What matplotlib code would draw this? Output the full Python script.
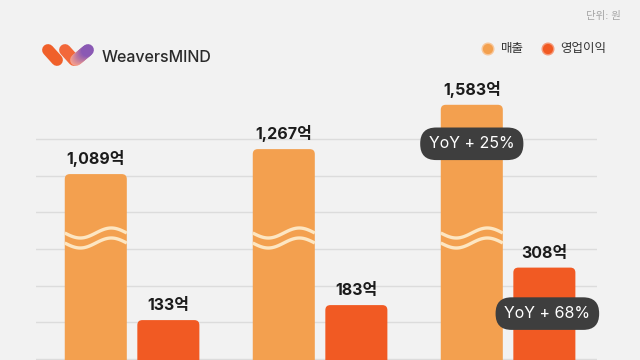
"""
WeaversMIND 매출 / 영업이익 막대 차트 재현
"""
import numpy as np
import matplotlib; matplotlib.use("Agg")
import matplotlib.pyplot as plt
from matplotlib.patches import FancyBboxPatch
from matplotlib.transforms import IdentityTransform

plt.rcParams["font.family"] = ["Inter", "Noto Sans CJK KR", "DejaVu Sans"]
plt.rcParams["axes.unicode_minus"] = False

# --- 데이터 ---
groups = [0, 1, 2]                      # 연도 라벨은 원본에서 잘려 보이지 않음
revenue = [1089, 1267, 1583]            # 매출(억 원)
profit = [133, 183, 308]                # 영업이익(억 원)
rev_labels = ["1,089억", "1,267억", "1,583억"]
pro_labels = ["133억", "183억", "308억"]
rev_yoy = "YoY + 25%"
pro_yoy = "YoY + 68%"
legend_names = ["매출", "영업이익"]

BG = "#f2f2f2"
C_REV, C_PRO = "#f3a04f", "#f15a23"
C_WAVE = "#fde6c2"

# --- 생략(물결) 구간이 있는 y축: 값 -> 화면 높이(px) ---
VAL_ANCH = [0, 330, 900, 2000]
DISP_ANCH = [0, 99, 159.4, 313.7]
fwd = lambda v: np.interp(v, VAL_ANCH, DISP_ANCH)
inv = lambda d: np.interp(d, DISP_ANCH, VAL_ANCH)
WAVE_Y = 122          # 물결 표시 높이(px)
GRID_STEP = 36.7

fig = plt.figure(figsize=(6.4, 3.6), dpi=100, facecolor=BG)
ax = fig.add_axes([36/640, 0, 561/640, 258/360], facecolor=BG)
ax.set_yscale("function", functions=(fwd, inv))
ax.set_xlim(-0.511, 2.473)
ax.set_ylim(0, inv(258))
ax.set_yticks(inv(1 + np.arange(7) * GRID_STEP))
ax.set_xticks([])
ax.tick_params(length=0, labelleft=False)
ax.grid(axis="y", color="#dcdcdc", lw=1)
ax.set_axisbelow(True)
for s in ax.spines.values(): s.set_visible(False)

W, OFF = 0.33, 0.193
x = np.array(groups)
b_rev = ax.bar(x - OFF, revenue, W, color=C_REV)
b_pro = ax.bar(x + OFF, profit, W, color=C_PRO)

# 둥근 모서리 막대로 교체 (화면 좌표)
def round_bars(bars, color):
    for r in bars:
        (x0, y0), (x1, y1) = ax.transData.transform([(r.get_x(), 0), (r.get_x() + r.get_width(), r.get_height())])
        p = FancyBboxPatch((x0, y0 - 10), x1 - x0, y1 - y0 + 10,
                           boxstyle="round,pad=0,rounding_size=5",
                           transform=IdentityTransform(), fc=color, ec="none", zorder=2)
        ax.add_artist(p)
        r.set_visible(False)

round_bars(b_rev, C_REV)
round_bars(b_pro, C_PRO)

# 물결(생략) 표시
t = np.linspace(0, 1, 80)
for xi in x - OFF:
    xs = xi - W/2 + t * W
    for dy in (5, -5):
        ys = WAVE_Y + dy - 5 * np.sin(2 * np.pi * t)
        ax.plot(xs, inv(ys), color=C_WAVE, lw=2.4, solid_capstyle="butt", zorder=3)

# 값 라벨
lab_kw = dict(xytext=(0, 7), textcoords="offset pixels", ha="center", va="bottom",
              fontsize=11.5, weight="bold", color="#1b1b1b", annotation_clip=False)
for xi, v, lab in zip(x - OFF, revenue, rev_labels):
    ax.annotate(lab, (xi, v), **lab_kw)
for xi, v, lab in zip(x + OFF, profit, pro_labels):
    ax.annotate(lab, (xi, v), **lab_kw)

# YoY 말풍선
pill = dict(boxstyle="round,pad=0.55,rounding_size=1.0", fc="#3e3e3e", ec="none")
ax.annotate(rev_yoy, (x[-1] - OFF, revenue[-1]), xytext=(0, -39), textcoords="offset pixels",
            ha="center", va="center", fontsize=11.5, color="white", bbox=pill, zorder=5)
ax.annotate(pro_yoy, (x[-1] + OFF, profit[-1]), xytext=(3, -46), textcoords="offset pixels",
            ha="center", va="center", fontsize=11.5, color="white", bbox=pill, zorder=5)

# --- 상단 장식: 로고, 범례, 단위 ---
oax = fig.add_axes([0, 0, 1, 1], facecolor="none")
oax.set_xlim(0, 640); oax.set_ylim(360, 0); oax.axis("off")

oax.plot([48, 57], [50, 60], color="#f0602a", lw=8.5, solid_capstyle="round")
oax.plot([65, 74], [50, 60], color="#f2683a", lw=8.5, solid_capstyle="round")
purple = np.linspace(0, 1, 12)
for a, b in zip(purple[:-1], purple[1:]):
    c = np.array([0.96, 0.62, 0.55]) * (1 - a) + np.array([0.50, 0.32, 0.72]) * a
    oax.plot([76 + 12*a, 76 + 12*b], [60 - 10*a, 60 - 10*b], color=c, lw=8.5, solid_capstyle="round")
oax.text(102, 57, "WeaversMIND", fontsize=11.5, weight="medium", color="#2a2a2a", va="center")

oax.scatter([488, 548], [49, 49], s=70, c=[C_REV, C_PRO], edgecolors=["#f8c79a", "#f59a7a"], linewidths=1)
oax.text(501, 49, legend_names[0], fontsize=9, color="#333333", va="center")
oax.text(560, 49, legend_names[1], fontsize=9, color="#333333", va="center")
oax.text(621, 16, "단위: 원", fontsize=7.5, color="#a5a5a5", va="center", ha="right")

fig.savefig("out.png", dpi=100, facecolor=BG)
